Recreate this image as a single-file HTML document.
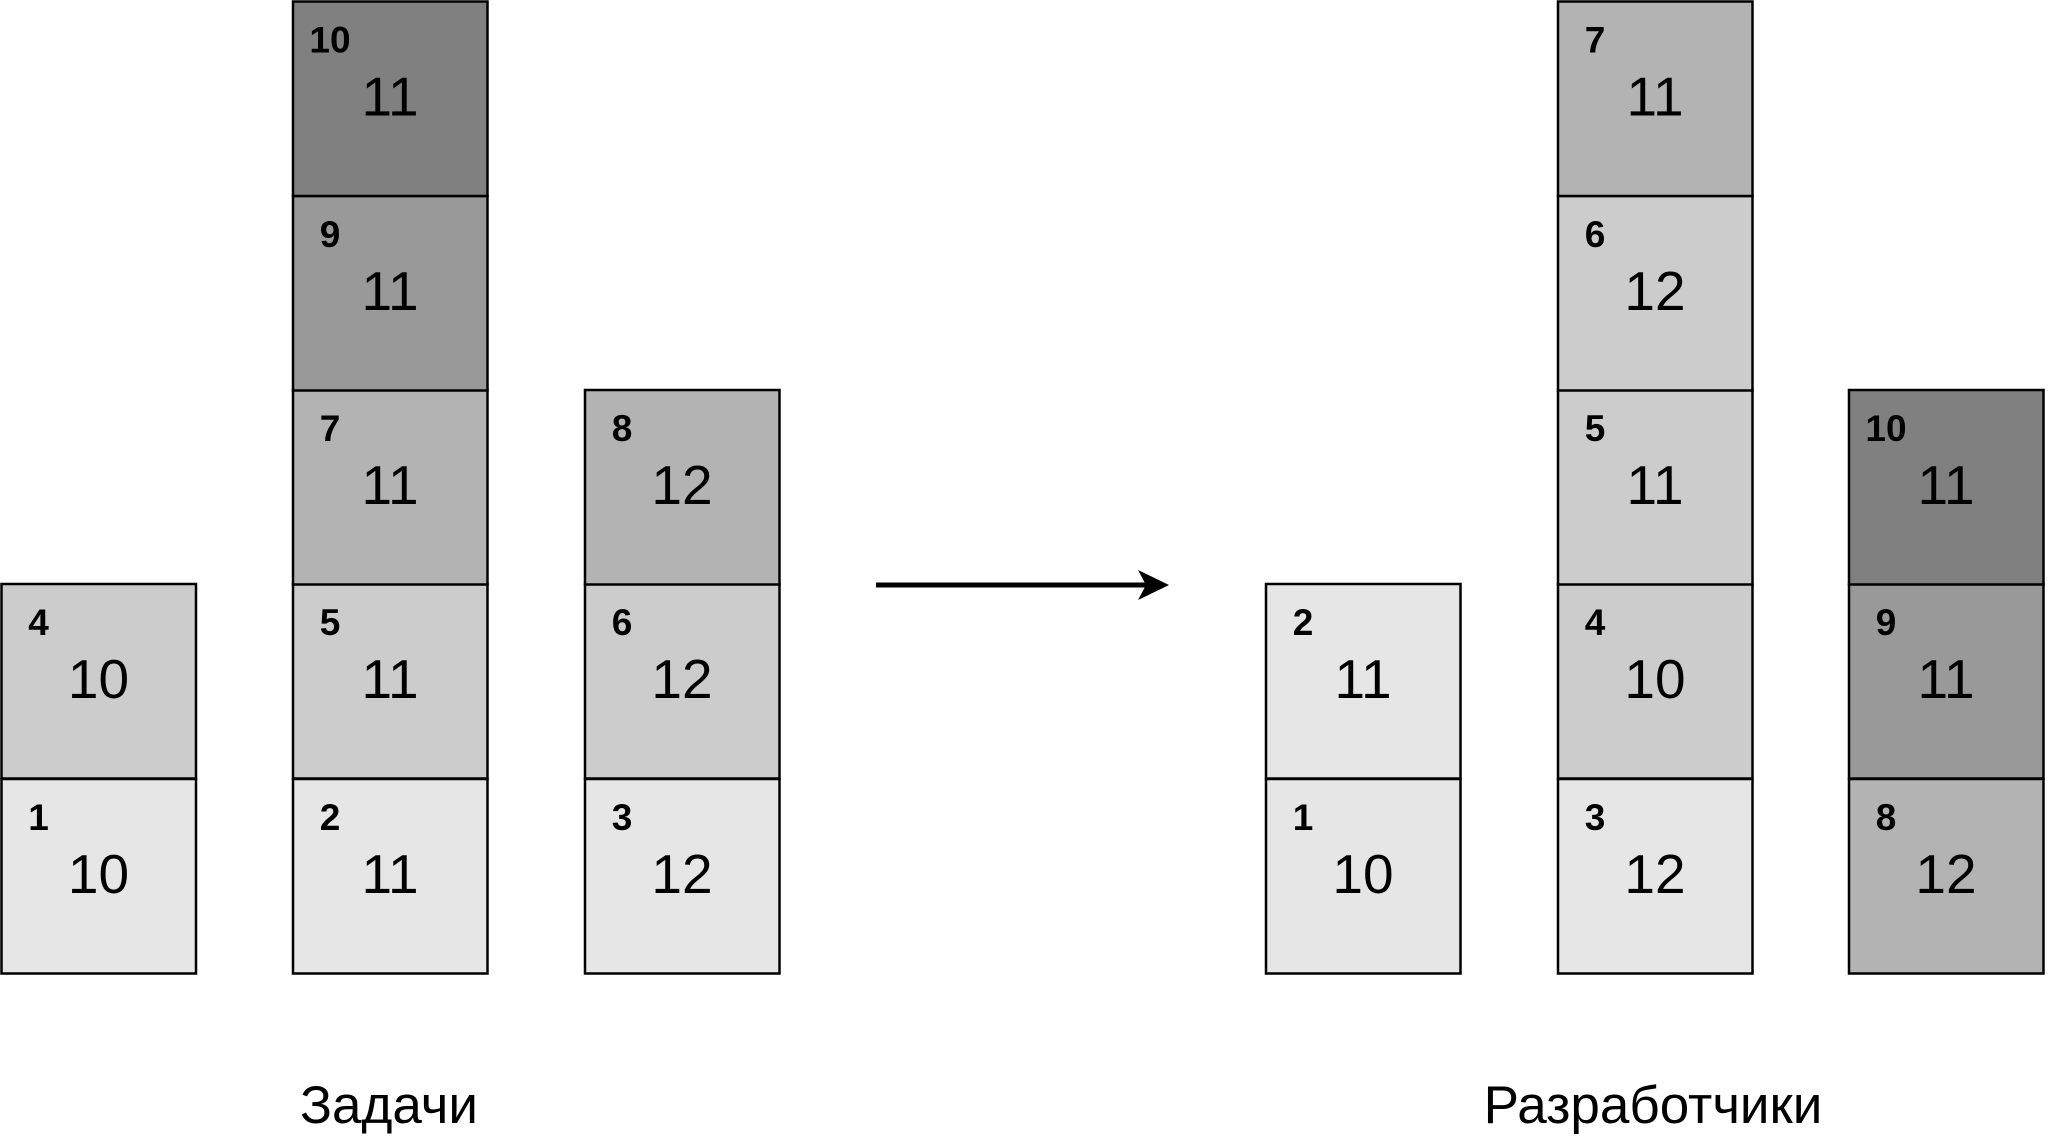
<!DOCTYPE html>
<html><head><meta charset="utf-8"><style>html,body{margin:0;padding:0;background:#fff}svg{display:block}
.b{stroke:#000;stroke-width:2.5}.s{font-size:37px;font-weight:bold;text-anchor:middle}.n{font-size:55px;text-anchor:middle}</style></head>
<body>
<svg width="2048" height="1148" viewBox="0 0 2048 1148" xmlns="http://www.w3.org/2000/svg" font-family="Liberation Sans, sans-serif">
<!-- left col1 x=1.5 -->
<g transform="translate(1.5,779)"><rect class="b" width="194.5" height="194.5" fill="#e6e6e6"/><text class="s" x="37" y="51">1</text><text class="n" x="97" y="114">10</text></g>
<g transform="translate(1.5,584)"><rect class="b" width="194.5" height="194.5" fill="#cccccc"/><text class="s" x="37" y="51">4</text><text class="n" x="97" y="114">10</text></g>
<!-- left col2 x=293 -->
<g transform="translate(293,779)"><rect class="b" width="194.5" height="194.5" fill="#e6e6e6"/><text class="s" x="37" y="51">2</text><text class="n" x="97" y="114">11</text></g>
<g transform="translate(293,584)"><rect class="b" width="194.5" height="194.5" fill="#cccccc"/><text class="s" x="37" y="51">5</text><text class="n" x="97" y="114">11</text></g>
<g transform="translate(293,390)"><rect class="b" width="194.5" height="194.5" fill="#b3b3b3"/><text class="s" x="37" y="51">7</text><text class="n" x="97" y="114">11</text></g>
<g transform="translate(293,196)"><rect class="b" width="194.5" height="194.5" fill="#999999"/><text class="s" x="37" y="51">9</text><text class="n" x="97" y="114">11</text></g>
<g transform="translate(293,1.5)"><rect class="b" width="194.5" height="194.5" fill="#808080"/><text class="s" x="37" y="51">10</text><text class="n" x="97" y="114">11</text></g>
<!-- left col3 x=585 -->
<g transform="translate(585,779)"><rect class="b" width="194.5" height="194.5" fill="#e6e6e6"/><text class="s" x="37" y="51">3</text><text class="n" x="97" y="114">12</text></g>
<g transform="translate(585,584)"><rect class="b" width="194.5" height="194.5" fill="#cccccc"/><text class="s" x="37" y="51">6</text><text class="n" x="97" y="114">12</text></g>
<g transform="translate(585,390)"><rect class="b" width="194.5" height="194.5" fill="#b3b3b3"/><text class="s" x="37" y="51">8</text><text class="n" x="97" y="114">12</text></g>
<!-- right col1 x=1266 -->
<g transform="translate(1266,779)"><rect class="b" width="194.5" height="194.5" fill="#e6e6e6"/><text class="s" x="37" y="51">1</text><text class="n" x="97" y="114">10</text></g>
<g transform="translate(1266,584)"><rect class="b" width="194.5" height="194.5" fill="#e6e6e6"/><text class="s" x="37" y="51">2</text><text class="n" x="97" y="114">11</text></g>
<!-- right col2 x=1558 -->
<g transform="translate(1558,779)"><rect class="b" width="194.5" height="194.5" fill="#e6e6e6"/><text class="s" x="37" y="51">3</text><text class="n" x="97" y="114">12</text></g>
<g transform="translate(1558,584)"><rect class="b" width="194.5" height="194.5" fill="#cccccc"/><text class="s" x="37" y="51">4</text><text class="n" x="97" y="114">10</text></g>
<g transform="translate(1558,390)"><rect class="b" width="194.5" height="194.5" fill="#cccccc"/><text class="s" x="37" y="51">5</text><text class="n" x="97" y="114">11</text></g>
<g transform="translate(1558,196)"><rect class="b" width="194.5" height="194.5" fill="#cccccc"/><text class="s" x="37" y="51">6</text><text class="n" x="97" y="114">12</text></g>
<g transform="translate(1558,1.5)"><rect class="b" width="194.5" height="194.5" fill="#b3b3b3"/><text class="s" x="37" y="51">7</text><text class="n" x="97" y="114">11</text></g>
<!-- right col3 x=1849 -->
<g transform="translate(1849,779)"><rect class="b" width="194.5" height="194.5" fill="#b3b3b3"/><text class="s" x="37" y="51">8</text><text class="n" x="97" y="114">12</text></g>
<g transform="translate(1849,584)"><rect class="b" width="194.5" height="194.5" fill="#999999"/><text class="s" x="37" y="51">9</text><text class="n" x="97" y="114">11</text></g>
<g transform="translate(1849,390)"><rect class="b" width="194.5" height="194.5" fill="#808080"/><text class="s" x="37" y="51">10</text><text class="n" x="97" y="114">11</text></g>
<line x1="876" y1="585" x2="1150" y2="585" stroke="#000" stroke-width="5"/>
<polygon points="1138,570 1169,585 1138,600 1146,585" fill="#000"/>
<text x="389" y="1123" font-size="53" text-anchor="middle">Задачи</text>
<text x="1653" y="1123" font-size="53" text-anchor="middle">Разработчики</text>
</svg>
</body></html>
